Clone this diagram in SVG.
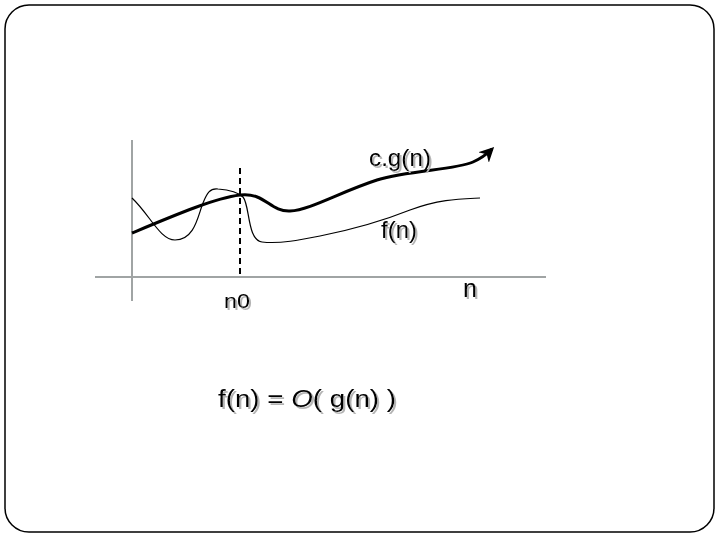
<svg xmlns="http://www.w3.org/2000/svg" width="720" height="540" viewBox="0 0 720 540">
<defs>
<style>
.t{font-family:"Liberation Sans",Arial,sans-serif;font-size:24px;fill:#000;filter:url(#sh)}
.ax{stroke:#a0a4a4;stroke-width:2;fill:none}
</style>
<filter id="sh" x="-10%" y="-20%" width="130%" height="150%">
<feFlood flood-color="#b4b4b4"/>
<feComposite in2="SourceAlpha" operator="in"/>
<feOffset dx="2" dy="2" result="s"/>
<feMerge><feMergeNode in="s"/><feMergeNode in="SourceGraphic"/></feMerge>
</filter>
<marker id="ah" viewBox="0 0 10 10" refX="8" refY="5" markerWidth="5" markerHeight="5" orient="auto">
<path d="M0,0 L10,5 L0,10 L3,5 z" fill="#000"/>
</marker>
</defs>
<rect x="5" y="5" width="709" height="527" rx="24" ry="24" fill="#fff" stroke="#000" stroke-width="1.5"/>
<g id="axes">
<line class="ax" x1="132" y1="140" x2="132" y2="301"/>
<line class="ax" x1="95" y1="277" x2="546" y2="277"/>
</g>
<g id="connectors">
<line x1="240" y1="168" x2="240" y2="277" stroke="#000" stroke-width="2" stroke-dasharray="6,4"/>
<path id="g" d="M132,233 C175,215 215,198 240,195 C265,192 270,212 290,211 C310,210 340,192 377,180 C410,170 455,170 473,162 C482,158 487,154 492,149" fill="none" stroke="#000" stroke-width="3" marker-end="url(#ah)"/>
<path id="f" d="M132,198 C150,215 160,240 175,240 C195,240 198,215 203,203 C207,193 210,188 218,189 C230,190 238,192 243,197 C250,205 247,240 262,242 C280,244 300,240 320,236 C350,230 380,222 410,210 C440,199 460,199 480,198" fill="none" stroke="#000" stroke-width="1.2"/>
</g>
<g id="label-cg">
<text class="t" x="369" y="166" textLength="62" lengthAdjust="spacingAndGlyphs">c.g(n)</text>
</g>
<g id="label-fn">
<text class="t" x="381" y="238" textLength="36" lengthAdjust="spacingAndGlyphs">f(n)</text>
</g>
<g id="label-n0">
<text class="t" x="224" y="308" style="font-size:21px" textLength="26" lengthAdjust="spacingAndGlyphs">n0</text>
</g>
<g id="label-n">
<text class="t" x="463" y="297" style="font-size:26px" textLength="14" lengthAdjust="spacingAndGlyphs">n</text>
</g>
<g id="formula">
<text class="t" x="218" y="407" style="font-size:23px" textLength="178" lengthAdjust="spacingAndGlyphs">f(n) = <tspan font-style="italic">O</tspan>( g(n) )</text>
</g>
</svg>
